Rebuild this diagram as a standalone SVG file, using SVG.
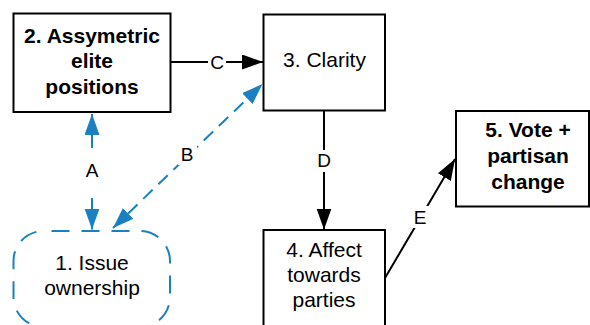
<svg xmlns="http://www.w3.org/2000/svg" width="590" height="325" viewBox="0 0 590 325">
<defs>
<style>
.box{fill:#fff;stroke:#000;stroke-width:2}
.t{font-family:"Liberation Sans",Arial,sans-serif;font-size:21px;fill:#000;text-anchor:middle}
.b{font-weight:bold}
.lbl{font-family:"Liberation Sans",Arial,sans-serif;font-size:19px;fill:#000;text-anchor:middle}
.blk{stroke:#000;stroke-width:2;fill:none}
.blu{stroke:#1a80c2;stroke-width:2;fill:none;stroke-dasharray:13 8}
.bg{fill:#fff}
</style>
<marker id="ak" markerUnits="userSpaceOnUse" markerWidth="22" markerHeight="16" refX="21" refY="7.5" orient="auto-start-reverse" viewBox="0 0 22 16">
<path d="M0,0 L21,7.5 L0,15 z" fill="#000"/>
</marker>
<marker id="au" markerUnits="userSpaceOnUse" markerWidth="22" markerHeight="16" refX="21" refY="7.5" orient="auto-start-reverse" viewBox="0 0 22 16">
<path d="M0,0 L21,7.5 L0,15 z" fill="#1a80c2"/>
</marker>
</defs>
<rect width="590" height="325" fill="#fff"/>
<g id="connectors">
<line class="blk" x1="171" y1="62" x2="263" y2="62" marker-end="url(#ak)"/>
<rect class="bg" x="208" y="51" width="18" height="22"/>
<text class="lbl" x="217" y="68.5">C</text>
<line class="blk" x1="324" y1="111" x2="324" y2="229.5" marker-end="url(#ak)"/>
<rect class="bg" x="315" y="150" width="18" height="22"/>
<text class="lbl" x="324" y="167">D</text>
<line class="blk" x1="385" y1="278" x2="455" y2="159" marker-end="url(#ak)"/>
<rect class="bg" x="411" y="206" width="18" height="22"/>
<text class="lbl" x="420" y="223.5">E</text>
<line class="blu" x1="92" y1="114" x2="92" y2="229.5" marker-start="url(#au)" marker-end="url(#au)"/>
<rect class="bg" x="82" y="149" width="20" height="45"/>
<text class="lbl" x="92" y="177">A</text>
<line class="blu" x1="113" y1="228" x2="262.5" y2="84" marker-start="url(#au)" marker-end="url(#au)"/>
<rect class="bg" x="178" y="143" width="19" height="22"/>
<text class="lbl" x="187" y="161">B</text>
</g>
<g id="n2">
<rect class="box" x="13.5" y="13.5" width="157" height="98.5"/>
<text class="t b" x="92" y="42.5">2. Assymetric</text>
<text class="t b" x="92" y="68">elite</text>
<text class="t b" x="92" y="93.5">positions</text>
</g>
<g id="n3">
<rect class="box" x="263.5" y="14.5" width="121.5" height="96"/>
<text class="t" x="324.5" y="66.5">3. Clarity</text>
</g>
<g id="n5">
<rect class="box" x="456" y="111" width="133" height="95.5"/>
<text class="t b" x="528" y="136.5">5. Vote +</text>
<text class="t b" x="528" y="162.5">partisan</text>
<text class="t b" x="528" y="188.5">change</text>
</g>
<g id="n4">
<rect class="box" x="263.5" y="230" width="121.5" height="110"/>
<text class="t" x="324" y="256.5">4. Affect</text>
<text class="t" x="324" y="281.5">towards</text>
<text class="t" x="324" y="306.5">parties</text>
</g>
<g id="n1">
<rect x="13.5" y="231" width="156.5" height="96" rx="30" ry="30" fill="none" stroke="#1a80c2" stroke-width="2" stroke-dasharray="18 12" stroke-dashoffset="-8"/>
<text class="t" x="92" y="270">1. Issue</text>
<text class="t" x="92" y="295">ownership</text>
</g>
</svg>
